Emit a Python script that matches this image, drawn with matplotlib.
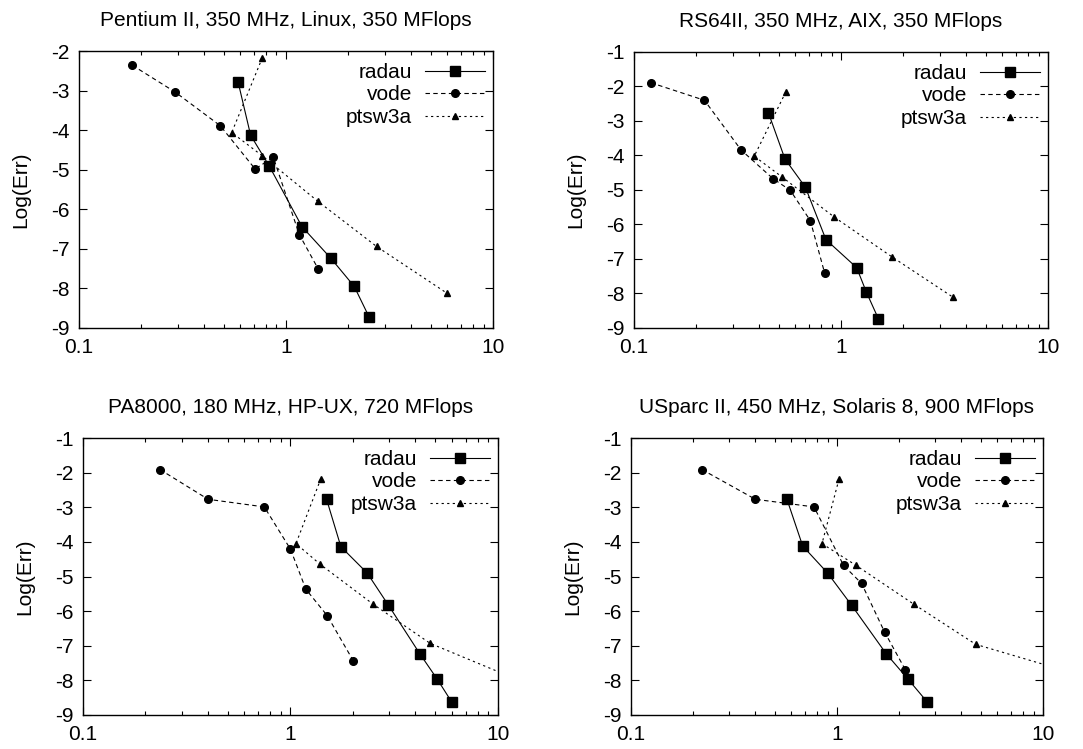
import matplotlib
matplotlib.use('Agg')
import matplotlib.pyplot as plt
from matplotlib.ticker import LogLocator, FixedLocator, FuncFormatter, NullFormatter

plt.rcParams['font.family'] = ['Liberation Sans', 'DejaVu Sans']
plt.rcParams['font.size'] = 15
plt.rcParams['axes.unicode_minus'] = False

titles = [
    'Pentium II, 350 MHz, Linux, 350 MFlops',
    'RS64II, 350 MHz, AIX, 350 MFlops',
    'PA8000, 180 MHz, HP-UX, 720 MFlops',
    'USparc II, 450 MHz, Solaris 8, 900 MFlops',
]

# radau
radau_x = [
    [0.587, 0.675, 0.831, 1.195, 1.649, 2.137, 2.525],
    [0.446, 0.536, 0.673, 0.846, 1.19, 1.326, 1.515],
    [1.493, 1.750, 2.343, 2.967, 4.20, 5.09, 5.98],
    [0.572, 0.682, 0.901, 1.178, 1.734, 2.21, 2.74],
]
radau_y = [
    [-2.78, -4.13, -4.91, -6.44, -7.24, -7.95, -8.73],
    [-2.76, -4.10, -4.92, -6.44, -7.25, -7.96, -8.73],
    [-2.77, -4.14, -4.90, -5.83, -7.23, -7.96, -8.62],
    [-2.77, -4.12, -4.90, -5.83, -7.23, -7.96, -8.62],
]

# vode
vode_x = [
    [0.181, 0.292, 0.482, 0.709, 0.869, 1.160, 1.432],
    [0.1205, 0.219, 0.329, 0.469, 0.569, 0.711, 0.834],
    [0.235, 0.401, 0.748, 1.0, 1.187, 1.504, 2.006],
    [0.221, 0.402, 0.774, 1.077, 1.317, 1.702, 2.151],
]
vode_y = [
    [-2.36, -3.04, -3.89, -4.98, -4.69, -6.64, -7.51],
    [-1.89, -2.40, -3.84, -4.67, -5.01, -5.89, -7.41],
    [-1.91, -2.77, -2.99, -4.21, -5.37, -6.13, -7.43],
    [-1.91, -2.77, -2.99, -4.68, -5.20, -6.60, -7.70],
]

# ptsw3a
ptsw_x = [
    [0.769, 0.547, 0.769, 1.427, 2.74, 5.99],
    [0.541, 0.381, 0.521, 0.925, 1.764, 3.48],
    [1.402, 1.063, 1.392, 2.503, 4.71, 14.0],
    [1.023, 0.846, 1.232, 2.362, 4.72, 20.0],
]
ptsw_y = [
    [-2.17, -4.06, -4.65, -5.80, -6.94, -8.12],
    [-2.16, -4.02, -4.63, -5.78, -6.94, -8.11],
    [-2.17, -4.05, -4.65, -5.80, -6.93, -8.11],
    [-2.19, -4.05, -4.67, -5.80, -6.96, -8.06],
]

y_min = [-9, -9, -9, -9]
y_max = [-2, -1, -1, -1]

positions = [
    [0.0729, 0.5621, 0.3823, 0.3698],
    [0.5854, 0.5621, 0.3823, 0.3685],
    [0.0766, 0.0454, 0.3832, 0.3698],
    [0.5826, 0.0454, 0.3804, 0.3698],
]

fig = plt.figure(figsize=(10.83, 7.49), dpi=100)

for i in range(4):
    ax = fig.add_axes(positions[i])
    ax.plot(radau_x[i], radau_y[i], color='black', lw=0.8, ls='-',
            marker='s', ms=6.5, label='radau')
    ax.plot(vode_x[i], vode_y[i], color='black', lw=0.8, ls=(0, (4, 3)),
            marker='o', ms=5.5, label='vode')
    ax.plot(ptsw_x[i], ptsw_y[i], color='black', lw=0.8, ls=(0, (2, 3)),
            marker='^', ms=4.8, label='ptsw3a')

    ax.set_xscale('log')
    ax.set_xlim(0.1, 10)
    ax.set_ylim(y_min[i], y_max[i])
    ax.xaxis.set_major_locator(FixedLocator([0.1, 1, 10]))
    ax.xaxis.set_major_formatter(FuncFormatter(lambda v, p: f'{v:g}'))
    ax.xaxis.set_minor_locator(LogLocator(base=10, subs=range(2, 10)))
    ax.xaxis.set_minor_formatter(NullFormatter())
    ax.set_yticks(range(y_min[i], y_max[i] + 1))

    ax.tick_params(which='both', direction='in', top=True, right=True, width=0.8)
    ax.tick_params(which='major', length=6, pad=7)
    ax.tick_params(which='minor', length=3)
    for s in ax.spines.values():
        s.set_linewidth(1.0)

    ax.set_title(titles[i], fontsize=15, pad=18)
    ax.set_ylabel('Log(Err)', fontsize=15, labelpad=15)

    ax.legend(loc='upper right', bbox_to_anchor=(0.981, 0.957),
              frameon=False, markerfirst=False,
              handlelength=2.9, handletextpad=0.6, labelspacing=0.17,
              borderpad=0.0, borderaxespad=0.0, fontsize=15)

fig.savefig('out.png', dpi=100)
